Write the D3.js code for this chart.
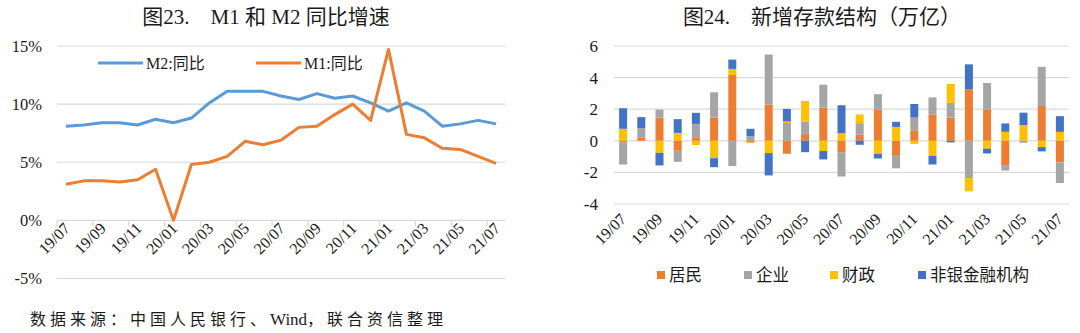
<!DOCTYPE html>
<html><head><meta charset="utf-8">
<script src="https://cdn.jsdelivr.net/npm/d3@7"></script>
<style>
html,body{margin:0;padding:0;background:#fff;}
svg{display:block;}
text{fill:#1a1a1a;}
</style></head>
<body>
<svg id="c" width="1080" height="333"></svg>
<script>
const months = ["19/07","19/08","19/09","19/10","19/11","19/12","20/01","20/02","20/03","20/04","20/05","20/06","20/07","20/08","20/09","20/10","20/11","20/12","21/01","21/02","21/03","21/04","21/05","21/06","21/07"];
const m2 = [8.1,8.2,8.4,8.4,8.2,8.7,8.4,8.8,10.1,11.1,11.1,11.1,10.7,10.4,10.9,10.5,10.7,10.1,9.4,10.1,9.4,8.1,8.3,8.6,8.3];
const m1 = [3.1,3.4,3.4,3.3,3.5,4.4,0.0,4.8,5.0,5.5,6.8,6.5,6.9,8.0,8.1,9.1,10.0,8.6,14.7,7.4,7.1,6.2,6.1,5.5,4.9];
const leftTicks = [15,10,5,0,-5];

const resident = [-0.1,0.2,1.47,-0.63,0.19,1.47,4.17,-0.1,2.3,-0.82,0.42,2.1,-0.72,0.38,1.96,-0.9,0.63,1.66,1.47,3.26,1.96,-1.54,0.0,2.2,-1.37];
const corporate = [-1.4,0.6,0.5,-0.7,0.88,1.6,-1.6,0.3,3.16,1.14,0.8,1.45,-1.54,0.74,0.99,-0.84,0.84,1.09,0.93,-2.36,1.7,-0.34,-0.12,2.48,-1.3];
const fiscal = [0.76,0.0,-0.76,0.5,-0.27,-1.1,0.38,-0.05,-0.78,0.08,1.3,-0.65,0.48,0.55,-0.82,0.88,-0.19,-0.95,1.2,-0.84,-0.5,0.57,1.0,-0.4,0.57];
const nonbank = [1.3,0.7,-0.8,0.87,0.7,-0.57,0.59,0.46,-1.41,0.8,-0.72,-0.53,1.77,-0.25,-0.3,0.32,0.86,-0.55,-0.1,1.58,-0.3,0.53,0.78,-0.27,0.99];
const rightTicks = [6,4,2,0,-2,-4];
const seriesNames = ["居民","企业","财政","非银金融机构"];

const serif = "'Liberation Serif','Times New Roman','Noto Sans CJK SC',serif";
const cjk = "'Liberation Serif','Noto Sans CJK SC',sans-serif";
const gridColor = "#d9d9d9";

const svg = d3.select("#c");

// ---------- Titles ----------
svg.append("text").attr("x",266).attr("y",24).attr("text-anchor","middle")
  .style("font-family",cjk).style("font-size","21px")
  .text("图23.\u3000M1 和 M2 同比增速");
svg.append("text").attr("x",822).attr("y",24).attr("text-anchor","middle")
  .style("font-family",cjk).style("font-size","21px")
  .text("图24.\u3000新增存款结构（万亿）");

// ---------- Left chart ----------
const L = {x0:57, x1:505, yTop:46, yBot:278.5};
const xl = d3.scaleBand().domain(months).range([L.x0,L.x1]).padding(0);
const yl = d3.scaleLinear().domain([-5,15]).range([L.yBot,L.yTop]);
const gL = svg.append("g");
gL.selectAll("line.grid").data(leftTicks).join("line")
  .attr("x1",L.x0).attr("x2",L.x1).attr("y1",d=>yl(d)).attr("y2",d=>yl(d))
  .attr("stroke",gridColor).attr("stroke-width",1.2);
gL.selectAll("text.yt").data(leftTicks).join("text")
  .attr("x",42).attr("y",d=>yl(d)+5.5).attr("text-anchor","end")
  .style("font-family",serif).style("font-size","16.5px")
  .text(d=>d+"%");
const tickIdx = d3.range(0,25,2);
gL.selectAll("line.xt").data(tickIdx).join("line")
  .attr("x1",i=>xl(months[i])).attr("x2",i=>xl(months[i]))
  .attr("y1",yl(0)).attr("y2",yl(0)+6)
  .attr("stroke",gridColor).attr("stroke-width",1.2);
gL.selectAll("text.xl").data(tickIdx).join("text")
  .attr("text-anchor","end")
  .attr("transform",i=>`translate(${xl(months[i])+xl.bandwidth()/2+5},${yl(0)+9}) rotate(-45)`)
  .style("font-family",serif).style("font-size","16px")
  .text(i=>months[i]);
const lineGen = d3.line().x((d,i)=>xl(months[i])+xl.bandwidth()/2).y(d=>yl(d));
gL.append("path").datum(m2).attr("d",lineGen).attr("fill","none")
  .attr("stroke","#5B9BD5").attr("stroke-width",3).attr("stroke-linejoin","round");
gL.append("path").datum(m1).attr("d",lineGen).attr("fill","none")
  .attr("stroke","#ED7D31").attr("stroke-width",3).attr("stroke-linejoin","round");
const legL = [{n:"M2:同比",c:"#5B9BD5",x:98},{n:"M1:同比",c:"#ED7D31",x:256}];
legL.forEach(d=>{
  gL.append("line").attr("x1",d.x).attr("x2",d.x+45).attr("y1",63).attr("y2",63)
    .attr("stroke",d.c).attr("stroke-width",3);
  gL.append("text").attr("x",d.x+48).attr("y",69)
    .style("font-family",cjk).style("font-size","16px").text(d.n);
});

// source
const src = svg.append("text").attr("x",30).attr("y",325)
  .style("font-family","'Noto Sans CJK SC',sans-serif").style("font-size","16px");
src.append("tspan").style("letter-spacing","4px").text("数据来源：中国人民银行、");
src.append("tspan").style("font-family",serif).style("font-size","17px").text("Wind");
src.append("tspan").style("letter-spacing","4px").text("，联合资信整理");

// ---------- Right chart ----------
const R = {x0:614, x1:1069, yTop:46, yBot:204};
const xr = d3.scaleBand().domain(months).range([R.x0,R.x1]).padding(0);
const yr = d3.scaleLinear().domain([-4,6]).range([R.yBot,R.yTop]);
const gR = svg.append("g");
gR.selectAll("line.grid").data(rightTicks).join("line")
  .attr("x1",R.x0).attr("x2",R.x1).attr("y1",d=>yr(d)).attr("y2",d=>yr(d))
  .attr("stroke",gridColor).attr("stroke-width",1.2);
gR.selectAll("text.yt").data(rightTicks).join("text")
  .attr("x",598).attr("y",d=>yr(d)+6).attr("text-anchor","end")
  .style("font-family",serif).style("font-size","17px")
  .text(d=>d);
const table = months.map((m,i)=>({m, "居民":resident[i], "企业":corporate[i], "财政":fiscal[i], "非银金融机构":nonbank[i]}));
const stack = d3.stack().keys(seriesNames).offset(d3.stackOffsetDiverging)(table);
const colors = {"居民":"#ED7D31","企业":"#A5A5A5","财政":"#FFC000","非银金融机构":"#4472C4"};
const bw = 8;
gR.selectAll("g.s").data(stack).join("g").attr("fill",d=>colors[d.key])
  .selectAll("rect").data(d=>d).join("rect")
  .attr("x",d=>xr(d.data.m)+xr.bandwidth()/2-bw/2)
  .attr("width",bw)
  .attr("y",d=>yr(Math.max(d[0],d[1])))
  .attr("height",d=>Math.abs(yr(d[0])-yr(d[1])));
gR.selectAll("text.xl").data(tickIdx).join("text")
  .attr("text-anchor","end")
  .attr("transform",i=>`translate(${xr(months[i])+xr.bandwidth()/2+4},${R.yBot+16}) rotate(-45)`)
  .style("font-family",serif).style("font-size","16px")
  .text(i=>months[i]);
const legR = [{n:"居民",x:657},{n:"企业",x:744},{n:"财政",x:830},{n:"非银金融机构",x:918}];
legR.forEach(d=>{
  gR.append("rect").attr("x",d.x).attr("y",271).attr("width",8).attr("height",8).attr("fill",colors[d.n]);
  gR.append("text").attr("x",d.x+12).attr("y",281)
    .style("font-family","'Noto Sans CJK SC',sans-serif").style("font-size","16.5px").text(d.n);
});
</script>
</body></html>
